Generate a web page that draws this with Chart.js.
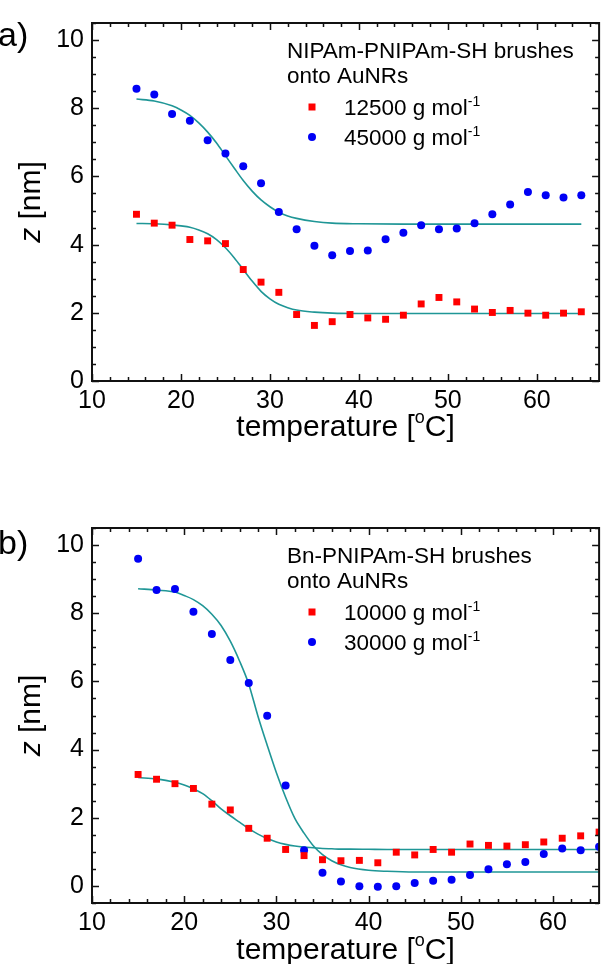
<!DOCTYPE html>
<html>
<head>
<meta charset="utf-8">
<script src="https://cdn.jsdelivr.net/npm/chart.js@4.4.0/dist/chart.umd.min.js"></script>
<style>
  html, body { margin: 0; padding: 0; background: #fff; }
  #wrap { position: relative; width: 604px; height: 964px; overflow: hidden; }
  canvas { position: absolute; left: 0; }
  #chartA { top: 0; }
  #chartB { top: 480px; }
</style>
</head>
<body>
<div id="wrap">
  <canvas id="chartA" width="604" height="470"></canvas>
  <canvas id="chartB" width="604" height="484"></canvas>
</div>
<script>
// measured points, temperature in oC, z in nm
const tempA = [15,17,19,21,23,25,27,29,31,33,35,37,39,41,43,45,47,49,51,53,55,57,59,61,63,65];
const redA  = [4.89,4.63,4.57,4.15,4.11,4.03,3.27,2.90,2.60,1.95,1.63,1.74,1.95,1.85,1.81,1.93,2.26,2.45,2.32,2.11,2.01,2.07,1.99,1.93,1.99,2.03];
const blueA = [8.57,8.40,7.83,7.63,7.06,6.67,6.30,5.80,4.96,4.45,3.97,3.69,3.81,3.83,4.16,4.35,4.57,4.45,4.47,4.63,4.89,5.18,5.54,5.45,5.38,5.45];

const tempB = [15,17,19,21,23,25,27,29,31,33,35,37,39,41,43,45,47,49,51,53,55,57,59,61,63,65];
const redB  = [3.27,3.13,3.00,2.86,2.40,2.23,1.69,1.40,1.07,0.89,0.77,0.74,0.75,0.68,0.99,0.91,1.07,0.99,1.23,1.19,1.17,1.21,1.29,1.40,1.47,1.58];
const blueB = [9.60,8.68,8.71,8.04,7.39,6.63,5.95,4.99,2.95,1.05,0.39,0.13,-0.01,-0.02,-0.01,0.09,0.15,0.18,0.32,0.49,0.64,0.70,0.94,1.10,1.05,1.15];

// fitted curves
const fitTempA = [15,17,19,20,21,22,23,24,25,26,27,28,29,30,31,32,33,35,37,40,45,50,55,60,65];
const fitRedA  = [4.62,4.61,4.58,4.55,4.51,4.43,4.32,4.15,3.91,3.61,3.27,2.93,2.63,2.41,2.25,2.15,2.08,2.02,1.99,1.98,1.98,1.98,1.98,1.98,1.98];
const fitBlueA = [8.27,8.21,8.07,7.95,7.79,7.57,7.30,6.98,6.61,6.24,5.88,5.57,5.31,5.11,4.95,4.84,4.77,4.68,4.63,4.61,4.60,4.60,4.60,4.60,4.60];

const fitTempB = [15,17,19,20,21,22,23,24,25,26,27,28,29,30,31,32,33,34,35,36,37,38,40,42,45,50,55,60,65];
const fitRedB  = [3.18,3.14,3.04,2.96,2.85,2.71,2.50,2.26,2.06,1.87,1.68,1.52,1.39,1.29,1.22,1.17,1.14,1.12,1.10,1.09,1.08,1.08,1.075,1.07,1.07,1.07,1.07,1.07,1.07];
const fitBlueB = [8.72,8.68,8.62,8.52,8.40,8.22,7.97,7.64,7.18,6.60,5.92,4.98,4.13,3.32,2.60,1.98,1.55,1.18,0.92,0.74,0.62,0.54,0.46,0.43,0.41,0.41,0.41,0.41,0.41];

const xTicks = [10,20,30,40,50,60];
const yTicks = [0,2,4,6,8,10];

const labelsA = ["12500", "45000"];
const labelsB = ["10000", "30000"];

const FONT = '"Liberation Sans", Arial, sans-serif';
const RED = '#ff0000';
const BLUE = '#0000f5';
const TEAL = '#1f9696';

function pts(xs, ys) {
  return xs.map((x, i) => ({ x: x, y: ys[i] }));
}

// text pieces: {t, size, italic, rise}
function drawParts(ctx, parts, x, y, align) {
  let total = 0;
  parts.forEach(p => {
    ctx.font = (p.italic ? 'italic ' : '') + p.size + 'px ' + FONT;
    p.w = ctx.measureText(p.t).width;
    total += p.w;
  });
  let cx = align === 'center' ? x - total / 2 : x;
  ctx.textAlign = 'left';
  ctx.textBaseline = 'alphabetic';
  parts.forEach(p => {
    ctx.font = (p.italic ? 'italic ' : '') + p.size + 'px ' + FONT;
    ctx.fillText(p.t, cx, y - (p.rise || 0));
    cx += p.w;
  });
}

function makePanel(cfg) {
  return {
    id: 'panel' + cfg.tag,
    afterDraw(chart) {
      const ctx = chart.ctx;
      const a = chart.chartArea;
      const xs = chart.scales.x, ys = chart.scales.y;
      ctx.save();
      ctx.strokeStyle = '#111';
      ctx.fillStyle = '#000';

      // inward ticks on all four sides
      ctx.lineWidth = 1.5;
      ctx.beginPath();
      for (let v = 10; v <= xs.max + 0.001; v += 2) {
        const px = Math.round(xs.getPixelForValue(v)) + 0.5;
        const len = (v % 10 === 0) ? 7 : 4;
        ctx.moveTo(px, a.bottom); ctx.lineTo(px, a.bottom - len);
        ctx.moveTo(px, a.top); ctx.lineTo(px, a.top + len);
      }
      for (let v = Math.ceil(ys.min * 2) / 2; v <= ys.max + 0.001; v += 0.5) {
        const py = Math.round(ys.getPixelForValue(v)) + 0.5;
        const len = (Math.abs(v % 2) < 0.001) ? 7 : 4;
        ctx.moveTo(a.left, py); ctx.lineTo(a.left + len, py);
        ctx.moveTo(a.right, py); ctx.lineTo(a.right - len, py);
      }
      ctx.stroke();

      ctx.lineWidth = 2;
      ctx.strokeRect(a.left, a.top, a.right - a.left, a.bottom - a.top);

      // panel letter
      ctx.font = '34px ' + FONT;
      ctx.textAlign = 'left';
      ctx.textBaseline = 'middle';
      ctx.fillText(cfg.tag + ')', -2, a.top + cfg.letterDy);

      // axis titles
      drawParts(ctx, [
        { t: 'temperature [', size: 30 },
        { t: 'o', size: 18, rise: 13 },
        { t: 'C]', size: 30 }
      ], (a.left + a.right) / 2, a.bottom + cfg.xTitleDy, 'center');

      ctx.save();
      ctx.translate(40, (a.top + a.bottom) / 2);
      ctx.rotate(-Math.PI / 2);
      drawParts(ctx, [
        { t: 'z', size: 30, italic: true },
        { t: ' [nm]', size: 30 }
      ], 0, 0, 'center');
      ctx.restore();

      // legend
      const lx = 287, ly = a.top;
      ctx.font = '22.5px ' + FONT;
      ctx.textBaseline = 'middle';
      ctx.fillText(cfg.title, lx, ly + 29);
      ctx.fillText('onto AuNRs', lx, ly + 54);

      ctx.fillStyle = RED;
      ctx.fillRect(312 - 3.5, ly + 84 - 3.5, 7, 7);
      ctx.fillStyle = BLUE;
      ctx.beginPath();
      ctx.arc(312, ly + 114, 4, 0, Math.PI * 2);
      ctx.fill();

      ctx.fillStyle = '#000';
      cfg.labels.forEach((lab, i) => {
        drawParts(ctx, [
          { t: lab + ' g mol', size: 22.5 },
          { t: '-1', size: 14, rise: 9 }
        ], 344, ly + 92 + i * 30, 'left');
      });
      ctx.restore();
    }
  };
}

function makeChart(id, cfg) {
  return new Chart(document.getElementById(id), {
    type: 'scatter',
    data: {
      datasets: [
        { data: pts(cfg.temp, cfg.red), pointStyle: 'rect', pointRadius: 4.9,
          backgroundColor: RED, borderWidth: 0, order: 0, clip: 0 },
        { data: pts(cfg.temp, cfg.blue), pointStyle: 'circle', pointRadius: 4,
          backgroundColor: BLUE, borderWidth: 0, order: 0, clip: 0 },
        { type: 'line', data: pts(cfg.fitTemp, cfg.fitRed), showLine: true, pointRadius: 0,
          borderColor: TEAL, borderWidth: 1.6, cubicInterpolationMode: 'monotone', fill: false, order: 1, clip: 0 },
        { type: 'line', data: pts(cfg.fitTemp, cfg.fitBlue), showLine: true, pointRadius: 0,
          borderColor: TEAL, borderWidth: 1.6, cubicInterpolationMode: 'monotone', fill: false, order: 1, clip: 0 }
      ]
    },
    options: {
      responsive: false,
      animation: false,
      events: [],
      layout: { padding: { top: cfg.padTop, right: 2, left: 0, bottom: 0 } },
      plugins: { legend: { display: false }, tooltip: { enabled: false } },
      scales: {
        x: {
          type: 'linear', min: 10, max: cfg.xMax,
          grid: { display: false, drawTicks: false },
          border: { display: false },
          ticks: { color: '#000', padding: 5, font: { family: FONT, size: 25 } },
          afterBuildTicks: s => { s.ticks = xTicks.map(v => ({ value: v })); },
          afterFit: s => { s.height = cfg.xAxisH; }
        },
        y: {
          type: 'linear', min: cfg.yMin, max: 10.5,
          grid: { display: false, drawTicks: false },
          border: { display: false },
          ticks: { color: '#000', padding: 8, font: { family: FONT, size: 25 } },
          afterBuildTicks: s => { s.ticks = yTicks.map(v => ({ value: v })); },
          afterFit: s => { s.width = 92; }
        }
      }
    },
    plugins: [makePanel(cfg)]
  });
}

makeChart('chartA', {
  tag: 'a', temp: tempA, red: redA, blue: blueA,
  fitTemp: fitTempA, fitRed: fitRedA, fitBlue: fitBlueA,
  xMax: 67, yMin: 0, padTop: 4, xAxisH: 89,
  letterDy: 14, xTitleDy: 55,
  title: 'NIPAm-PNIPAm-SH brushes', labels: labelsA
});

makeChart('chartB', {
  tag: 'b', temp: tempB, red: redB, blue: blueB,
  fitTemp: fitTempB, fitRed: fitRedB, fitBlue: fitBlueB,
  xMax: 65, yMin: -0.5, padTop: 48, xAxisH: 61,
  letterDy: 17, xTitleDy: 56,
  title: 'Bn-PNIPAm-SH brushes', labels: labelsB
});
</script>
</body>
</html>
